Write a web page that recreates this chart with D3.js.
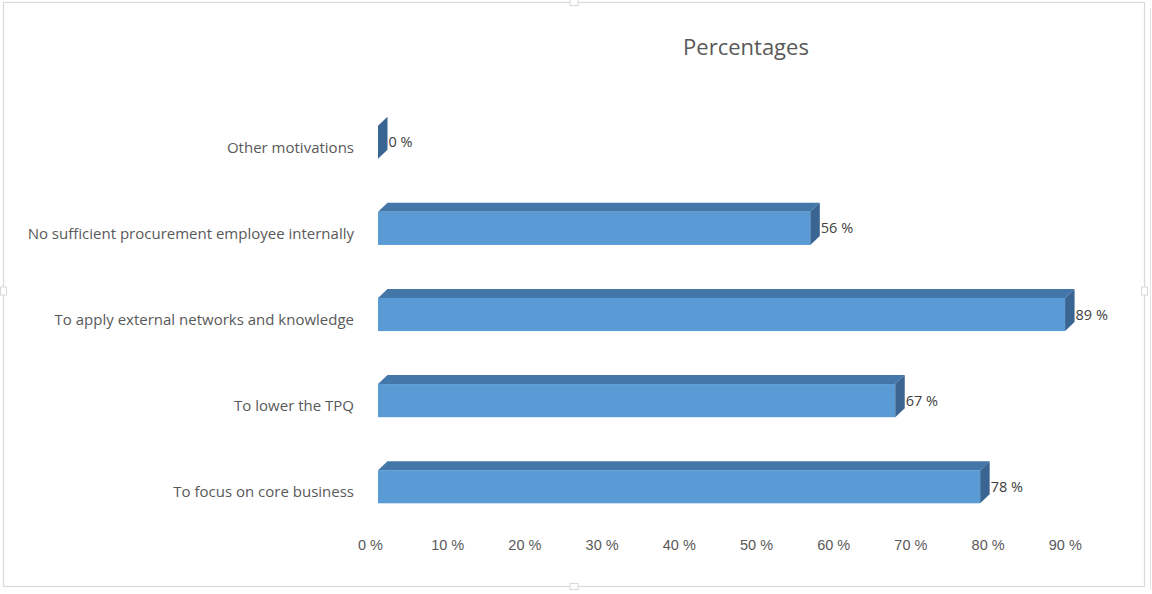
<!DOCTYPE html>
<html><head><meta charset="utf-8">
<script src="https://cdn.jsdelivr.net/npm/d3@7"></script>
<style>
html,body{margin:0;padding:0;background:#fff;}
svg{display:block;font-family:"Open Sans","Liberation Sans",sans-serif;}
</style></head>
<body>
<svg id="chart" width="1152" height="594"></svg>
<script>
const categories = ["Other motivations","No sufficient procurement employee internally","To apply external networks and knowledge","To lower the TPQ","To focus on core business"];
const values = [0,56,89,67,78];
const valueLabels = ["0 %","56 %","89 %","67 %","78 %"];
const tickValues = [0,10,20,30,40,50,60,70,80,90];
const tickLabels = ["0 %","10 %","20 %","30 %","40 %","50 %","60 %","70 %","80 %","90 %"];
const title = "Percentages";

const svg = d3.select("#chart");

// chart area border
svg.append("rect").attr("x",3.5).attr("y",2.5).attr("width",1141).attr("height",584)
  .attr("fill","#fff").attr("stroke","#d9d9d9").attr("stroke-width",1.2);
svg.append("line").attr("x1",1150.5).attr("x2",1150.5).attr("y1",8).attr("y2",590)
  .attr("stroke","#e3e3e3").attr("stroke-width",1);
// small handles
[[574,2.5,"h"],[574,586.5,"h"],[3.5,291,"v"],[1144.5,291,"v"]].forEach(([x,y,o])=>{
  if(o==="h") svg.append("rect").attr("x",x-4).attr("y",y-3).attr("width",8).attr("height",6).attr("fill","#fff").attr("stroke","#d9d9d9");
  else svg.append("rect").attr("x",x-3).attr("y",y-4).attr("width",6).attr("height",8).attr("fill","#fff").attr("stroke","#d9d9d9");
});

const x = d3.scaleLinear().domain([0,100]).range([378,1150]);
const y = d3.scaleBand().domain(categories).range([99,530]).paddingInner(0.615).paddingOuter(0.31);
const dx = 9.5, dy = -9;

svg.append("text").attr("x",746).attr("y",55).attr("text-anchor","middle")
  .attr("font-size",22).attr("fill","#595959").text(title);

const g = svg.append("g");
categories.forEach((c,i)=>{
  const x0 = x(0), x1 = x(values[i]), y0 = y(c), h = y.bandwidth();
  // top face
  g.append("path").attr("d",`M${x0},${y0}L${x0+dx},${y0+dy}L${x1+dx},${y0+dy}L${x1},${y0}Z`)
    .attr("fill","#4477a9");
  // front face
  if (x1 > x0) g.append("rect").attr("x",x0).attr("y",y0).attr("width",x1-x0).attr("height",h)
    .attr("fill","#5b9bd5");
  // side face
  g.append("path").attr("d",`M${x1},${y0}L${x1+dx},${y0+dy}L${x1+dx},${y0+dy+h}L${x1},${y0+h}Z`)
    .attr("fill","#3a6592");
  // value label
  g.append("text").attr("x",x1+dx+1).attr("y",y0+h/2).attr("dy","0.35em")
    .attr("font-size",14.5).attr("fill","#404040")
    .text(valueLabels[i]);
  // category label
  g.append("text").attr("x",354).attr("y",y0+h/2+5.5).attr("dy","0.35em").attr("text-anchor","end")
    .attr("font-size",15).attr("fill","#595959")
    .text(c);
});

const axis = d3.axisBottom(x).tickValues(tickValues).tickFormat((d,i)=>tickLabels[i]).tickSize(0).tickPadding(0);
const ax = svg.append("g").attr("transform","translate(-8,550)").call(axis);
ax.select(".domain").remove();
ax.selectAll("text").attr("font-size",14.5).attr("fill","#595959").attr("dy","0");
</script>
</body></html>
